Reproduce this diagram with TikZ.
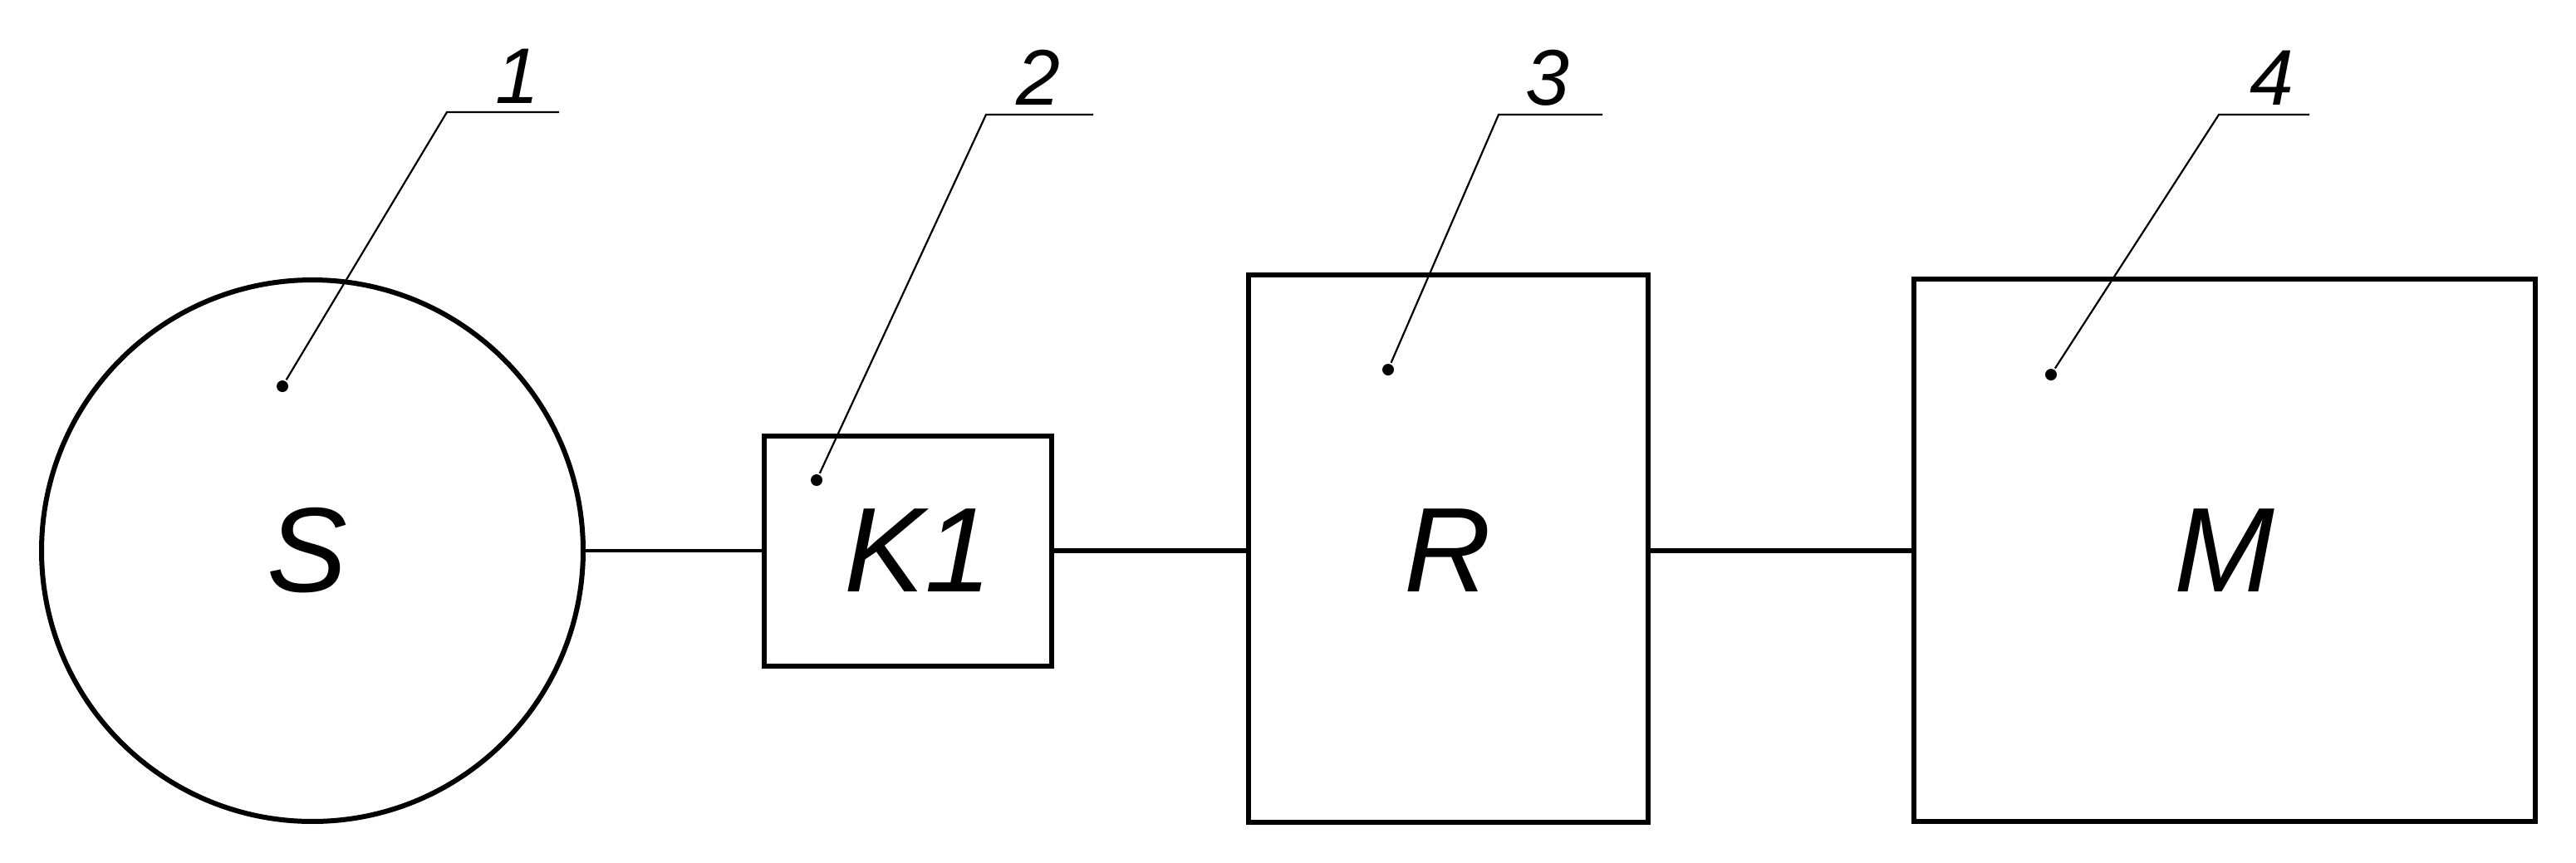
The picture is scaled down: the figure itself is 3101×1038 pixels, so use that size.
\documentclass[tikz,border=0pt]{standalone}
\usepackage{fontspec}
\setmainfont{Liberation Sans}
\begin{document}
\begin{tikzpicture}[x=0.1pt,y=-0.1pt,
 blk/.style={draw,line width=0.6pt,inner sep=0pt},
 big/.style={font=\fontsize{14.5}{14}\selectfont\itshape},
 num/.style={font=\fontsize{9.5}{9}\selectfont\itshape,anchor=base},
 lead/.style={line width=0.22pt},
 dot/.style={circle,fill,inner sep=0pt,minimum size=1.4pt}]
\useasboundingbox (0,0) rectangle (3101,1038);
\node[blk,circle,minimum size=65.2pt] (s) at (376,663) {};
\node[big] at (370,663) {S};
\node[blk,minimum width=34.6pt,minimum height=27.7pt] (k) at (1093,663) {};
\node[big] at (1105,663) {K1};
\node[blk,minimum width=48.1pt,minimum height=65.9pt] (r) at (1743,660) {};
\node[big] at (1743,663) {R};
\node[blk,minimum width=74.8pt,minimum height=65.3pt] (m) at (2678,662) {};
\node[big] at (2678,663) {M};
\draw[line width=0.45pt] (s.east) -- (k.west);
\draw[line width=0.6pt] (k.east) -- (r.west|-k.east);
\draw[line width=0.6pt] (r.east|-k.east) -- (m.west|-k.east);
% leaders
\node[dot] (d1) at (340,465) {};
\node[dot] (d2) at (983,578) {};
\node[dot] (d3) at (1671,445) {};
\node[dot] (d4) at (2469,451) {};
\coordinate (a1) at (538,135); \coordinate (b1) at (673,135);
\coordinate (a2) at (1187,138); \coordinate (b2) at (1316,138);
\coordinate (a3) at (1804,138); \coordinate (b3) at (1929,138);
\coordinate (a4) at (2671,138); \coordinate (b4) at (2780,138);
\foreach \i in {1,2,3,4}{\draw[lead] (d\i) -- (a\i) -- (b\i);}
\node[num] at (623,124) {1};
\node[num] at (1250,126) {2};
\node[num] at (1863,126) {3};
\node[num] at (2735,126) {4};
\end{tikzpicture}
\end{document}
